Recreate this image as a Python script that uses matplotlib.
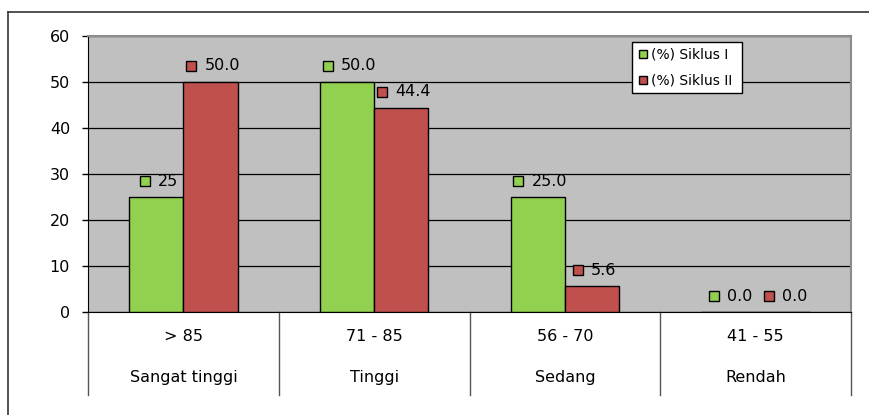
import matplotlib
matplotlib.use("Agg")
from matplotlib import pyplot as plt
from matplotlib.lines import Line2D
from matplotlib.transforms import ScaledTranslation
import numpy as np

ranges = ["> 85", "71 - 85", "56 - 70", "41 - 55"]
levels = ["Sangat tinggi", "Tinggi", "Sedang", "Rendah"]
siklus_1 = [25, 50.0, 25.0, 0.0]
siklus_2 = [50.0, 44.4, 5.6, 0.0]
labels_1 = ["25", "50.0", "25.0", "0.0"]
labels_2 = ["50.0", "44.4", "5.6", "0.0"]
series_names = ["(%) Siklus I", "(%) Siklus II"]

GREEN = "#92D050"
RED = "#C0504D"
plt.rcParams['font.family'] = ['DejaVu Sans']
FS = 11.5

fig = plt.figure(figsize=(8.69, 4.15), dpi=100)
ax = fig.add_axes([88 / 869, 1 - 312 / 415, 763 / 869, 276 / 415])
ax.set_facecolor("#C0C0C0")

x = np.arange(len(ranges))
w = 0.285
ax.bar(x - w / 2, siklus_1, w, color=GREEN, edgecolor="black", linewidth=1, zorder=3)
ax.bar(x + w / 2, siklus_2, w, color=RED, edgecolor="black", linewidth=1, zorder=3)

ax.set_xlim(-0.5, len(ranges) - 0.5)
ax.set_ylim(0, 60)
ax.set_yticks(range(0, 61, 10))
ax.tick_params(axis="y", labelsize=FS, length=4.3, width=1, pad=8.6, direction="out")
ax.set_xticks([])
ax.yaxis.grid(True, color="black", linewidth=0.9, zorder=1)
ax.set_axisbelow(True)
ax.spines["left"].set_color("black")
ax.spines["bottom"].set_color("black")
for s in ("top", "right"):
    ax.spines[s].set_color("#8c8c8c")
    ax.spines[s].set_linewidth(1.5)

# two level category axis
trans = ax.get_xaxis_transform()
for b in np.arange(-0.5, len(ranges), 1.0):
    ax.plot([b, b], [0, -0.30], color="#555555", lw=1, transform=trans, clip_on=False)
for i in range(len(ranges)):
    ax.text(i, -0.087, ranges[i], transform=trans, ha="center", va="center", fontsize=FS)
    ax.text(i, -0.236, levels[i], transform=trans, ha="center", va="center", fontsize=FS)

# data labels with a small legend key in front
fig.canvas.draw()
renderer = fig.canvas.get_renderer()


def add_label(xpos, val, txt, color):
    t = ax.annotate(txt, (xpos, val), xytext=(0, 16), textcoords="offset pixels",
                    ha="left", va="center", fontsize=FS, zorder=5)
    tw = t.get_window_extent(renderer).width
    left = 2.5 - (18 + tw) / 2
    t.set_position((left + 18, 16))
    ax.plot([xpos], [val], marker="s", markersize=6.8, markerfacecolor=color,
            markeredgecolor="black", markeredgewidth=1, linestyle="none",
            transform=ax.transData + ScaledTranslation((left + 5) / 100, 16 / 100,
                                                       fig.dpi_scale_trans),
            clip_on=False, zorder=5)


for i in range(len(ranges)):
    add_label(x[i] - w / 2, siklus_1[i], labels_1[i], GREEN)
    add_label(x[i] + w / 2, siklus_2[i], labels_2[i], RED)

handles = [Line2D([], [], marker="s", markersize=6, markerfacecolor=c, markeredgecolor="black",
                  linestyle="none") for c in (GREEN, RED)]
leg = ax.legend(handles, series_names, loc="upper left",
                bbox_to_anchor=(632 / 869, 1 - 91 / 415, 110 / 869, 49 / 415),
                bbox_transform=fig.transFigure, mode="expand", fontsize=10, frameon=True,
                fancybox=False, edgecolor="black", framealpha=1, handletextpad=0.2,
                handlelength=0.8, borderpad=0.4, labelspacing=0.87, borderaxespad=0)
leg.get_frame().set_linewidth(1)

# outer chart frame
fig.add_artist(Line2D([8 / 869, 8 / 869], [0, 1 - 12 / 415], color="#333333", lw=1.2))
fig.add_artist(Line2D([8 / 869, 1], [1 - 12 / 415, 1 - 12 / 415], color="#333333", lw=1.2))

fig.savefig("out.png", dpi=100)
